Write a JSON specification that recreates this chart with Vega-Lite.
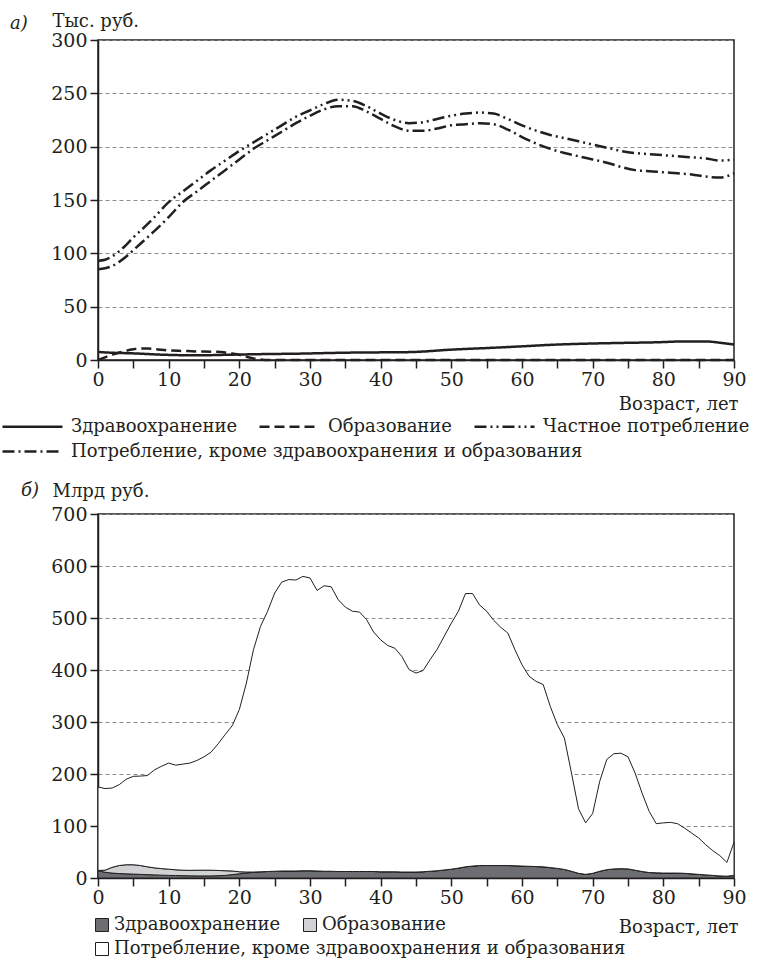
{
  "$schema": "https://vega.github.io/schema/vega-lite/v6.json",
  "background": "white",
  "padding": {"left": 0, "top": 11, "right": 0, "bottom": 0},
  "bounds": "flush",
  "spacing": 154,
  "resolve": {
    "scale": {"strokeDash": "independent", "fill": "independent"},
    "legend": {"strokeDash": "independent", "fill": "independent"}
  },
  "config": {
    "font": "DejaVu Serif",
    "view": {"stroke": "#231f20", "strokeWidth": 1.5},
    "axis": {
      "labelFont": "DejaVu Serif", "labelFontSize": 19, "labelColor": "#231f20",
      "titleFont": "DejaVu Serif", "titleFontSize": 18, "titleFontWeight": "normal", "titleColor": "#231f20",
      "domainColor": "#231f20", "domainWidth": 1.5, "tickColor": "#231f20", "tickWidth": 1.5, "tickSize": 8,
      "gridColor": "#8c8c8c", "gridDash": [4, 3], "gridWidth": 1
    },
    "legend": {"labelFont": "DejaVu Serif", "labelFontSize": 18, "labelColor": "#231f20", "labelLimit": 1000},
    "title": {"font": "DejaVu Serif", "fontSize": 18, "fontStyle": "italic", "fontWeight": "normal", "color": "#231f20"}
  },
  "vconcat": [
    {
      "width": 636,
      "height": 320,
      "title": {"text": "а)", "anchor": "start", "frame": "group", "dx": -88, "offset": -35, "baseline": "alphabetic"},
      "data": {"values": [
        {"age": 0, "series": "health", "value": 7.5},
        {"age": 2, "series": "health", "value": 6.8},
        {"age": 5, "series": "health", "value": 6.2},
        {"age": 9, "series": "health", "value": 5},
        {"age": 14, "series": "health", "value": 4.4},
        {"age": 19, "series": "health", "value": 5},
        {"age": 24, "series": "health", "value": 5.6},
        {"age": 28, "series": "health", "value": 5.9},
        {"age": 33, "series": "health", "value": 6.6},
        {"age": 38, "series": "health", "value": 7.1},
        {"age": 42, "series": "health", "value": 7.2},
        {"age": 45, "series": "health", "value": 7.6},
        {"age": 50, "series": "health", "value": 9.7},
        {"age": 55, "series": "health", "value": 11.2},
        {"age": 60, "series": "health", "value": 12.8},
        {"age": 64, "series": "health", "value": 14.2},
        {"age": 69, "series": "health", "value": 15.3},
        {"age": 74, "series": "health", "value": 16},
        {"age": 79, "series": "health", "value": 16.6},
        {"age": 83, "series": "health", "value": 17.4},
        {"age": 86, "series": "health", "value": 17.4},
        {"age": 88, "series": "health", "value": 16.2},
        {"age": 90, "series": "health", "value": 14.5},
        {"age": 0, "series": "education", "value": 0},
        {"age": 1, "series": "education", "value": 2.5},
        {"age": 2, "series": "education", "value": 5},
        {"age": 3, "series": "education", "value": 7},
        {"age": 4, "series": "education", "value": 8.7},
        {"age": 5, "series": "education", "value": 10},
        {"age": 6, "series": "education", "value": 10.8},
        {"age": 7, "series": "education", "value": 10.8},
        {"age": 8, "series": "education", "value": 10.3},
        {"age": 10, "series": "education", "value": 9},
        {"age": 12, "series": "education", "value": 8.5},
        {"age": 14, "series": "education", "value": 8},
        {"age": 16, "series": "education", "value": 7.8},
        {"age": 18, "series": "education", "value": 7},
        {"age": 19, "series": "education", "value": 6},
        {"age": 20, "series": "education", "value": 4.8},
        {"age": 21, "series": "education", "value": 3},
        {"age": 22, "series": "education", "value": 1.5},
        {"age": 23, "series": "education", "value": 0.5},
        {"age": 24, "series": "education", "value": 0},
        {"age": 30, "series": "education", "value": 0},
        {"age": 40, "series": "education", "value": 0},
        {"age": 50, "series": "education", "value": 0},
        {"age": 60, "series": "education", "value": 0},
        {"age": 70, "series": "education", "value": 0},
        {"age": 80, "series": "education", "value": 0},
        {"age": 90, "series": "education", "value": 0},
        {"age": 0, "series": "private", "value": 93},
        {"age": 1, "series": "private", "value": 94},
        {"age": 2, "series": "private", "value": 97},
        {"age": 3, "series": "private", "value": 102},
        {"age": 4, "series": "private", "value": 108},
        {"age": 5, "series": "private", "value": 115},
        {"age": 6, "series": "private", "value": 121},
        {"age": 8, "series": "private", "value": 134},
        {"age": 10, "series": "private", "value": 148},
        {"age": 12, "series": "private", "value": 158},
        {"age": 14, "series": "private", "value": 168},
        {"age": 16, "series": "private", "value": 178},
        {"age": 18, "series": "private", "value": 187},
        {"age": 20, "series": "private", "value": 196},
        {"age": 22, "series": "private", "value": 204},
        {"age": 24, "series": "private", "value": 212},
        {"age": 26, "series": "private", "value": 220},
        {"age": 28, "series": "private", "value": 228},
        {"age": 30, "series": "private", "value": 234},
        {"age": 32, "series": "private", "value": 240},
        {"age": 34, "series": "private", "value": 244},
        {"age": 36, "series": "private", "value": 243},
        {"age": 38, "series": "private", "value": 238},
        {"age": 40, "series": "private", "value": 231},
        {"age": 42, "series": "private", "value": 225},
        {"age": 44, "series": "private", "value": 222},
        {"age": 46, "series": "private", "value": 223},
        {"age": 48, "series": "private", "value": 226},
        {"age": 50, "series": "private", "value": 229},
        {"age": 52, "series": "private", "value": 231},
        {"age": 54, "series": "private", "value": 232},
        {"age": 56, "series": "private", "value": 231},
        {"age": 58, "series": "private", "value": 226},
        {"age": 60, "series": "private", "value": 220},
        {"age": 62, "series": "private", "value": 215},
        {"age": 64, "series": "private", "value": 211},
        {"age": 66, "series": "private", "value": 208},
        {"age": 68, "series": "private", "value": 205},
        {"age": 70, "series": "private", "value": 202},
        {"age": 72, "series": "private", "value": 199},
        {"age": 74, "series": "private", "value": 196},
        {"age": 76, "series": "private", "value": 194},
        {"age": 78, "series": "private", "value": 193},
        {"age": 80, "series": "private", "value": 192},
        {"age": 82, "series": "private", "value": 191},
        {"age": 84, "series": "private", "value": 190},
        {"age": 86, "series": "private", "value": 189},
        {"age": 88, "series": "private", "value": 187},
        {"age": 90, "series": "private", "value": 188},
        {"age": 0, "series": "other", "value": 85},
        {"age": 1, "series": "other", "value": 86},
        {"age": 2, "series": "other", "value": 88},
        {"age": 3, "series": "other", "value": 92},
        {"age": 4, "series": "other", "value": 97},
        {"age": 5, "series": "other", "value": 103},
        {"age": 6, "series": "other", "value": 109},
        {"age": 8, "series": "other", "value": 121},
        {"age": 10, "series": "other", "value": 134},
        {"age": 12, "series": "other", "value": 148},
        {"age": 14, "series": "other", "value": 158},
        {"age": 16, "series": "other", "value": 168},
        {"age": 18, "series": "other", "value": 178},
        {"age": 20, "series": "other", "value": 188},
        {"age": 22, "series": "other", "value": 198},
        {"age": 24, "series": "other", "value": 206},
        {"age": 26, "series": "other", "value": 214},
        {"age": 28, "series": "other", "value": 222},
        {"age": 30, "series": "other", "value": 229},
        {"age": 32, "series": "other", "value": 235},
        {"age": 34, "series": "other", "value": 238},
        {"age": 36, "series": "other", "value": 238},
        {"age": 38, "series": "other", "value": 233},
        {"age": 40, "series": "other", "value": 226},
        {"age": 42, "series": "other", "value": 219},
        {"age": 44, "series": "other", "value": 215},
        {"age": 46, "series": "other", "value": 215},
        {"age": 48, "series": "other", "value": 217},
        {"age": 50, "series": "other", "value": 220},
        {"age": 52, "series": "other", "value": 221},
        {"age": 54, "series": "other", "value": 222},
        {"age": 56, "series": "other", "value": 221},
        {"age": 58, "series": "other", "value": 216},
        {"age": 60, "series": "other", "value": 209},
        {"age": 62, "series": "other", "value": 203},
        {"age": 64, "series": "other", "value": 198},
        {"age": 66, "series": "other", "value": 194},
        {"age": 68, "series": "other", "value": 191},
        {"age": 70, "series": "other", "value": 188},
        {"age": 72, "series": "other", "value": 185},
        {"age": 74, "series": "other", "value": 181},
        {"age": 76, "series": "other", "value": 178},
        {"age": 78, "series": "other", "value": 177},
        {"age": 80, "series": "other", "value": 176},
        {"age": 82, "series": "other", "value": 175},
        {"age": 84, "series": "other", "value": 174},
        {"age": 86, "series": "other", "value": 172},
        {"age": 88, "series": "other", "value": 171},
        {"age": 90, "series": "other", "value": 175}
      ]},
      "encoding": {
        "x": {
          "field": "age", "type": "quantitative",
          "scale": {"domain": [0, 90], "nice": false},
          "axis": {
            "values": [0, 5, 10, 15, 20, 25, 30, 35, 40, 45, 50, 55, 60, 65, 70, 75, 80, 85, 90],
            "labelExpr": "datum.value % 10 === 0 ? datum.label : ''",
            "grid": false, "labelPadding": 2, "labelFlush": false,
            "title": "Возраст, лет", "titleAnchor": "end", "titleAlign": "right",
            "titleX": 640, "titleY": 49, "titleBaseline": "alphabetic"
          }
        },
        "y": {
          "field": "value", "type": "quantitative",
          "scale": {"domain": [0, 300], "nice": false},
          "axis": {
            "values": [0, 50, 100, 150, 200, 250, 300],
            "labelPadding": 3,
            "title": "Тыс. руб.", "titleAngle": 0, "titleAlign": "left",
            "titleX": -46, "titleY": -14, "titleBaseline": "alphabetic"
          }
        }
      },
      "layer": [
        {
          "transform": [{"filter": "datum.series != 'other'"}],
          "mark": {"type": "line", "interpolate": "monotone", "strokeWidth": 2.5, "color": "#231f20"},
          "encoding": {
            "strokeDash": {
              "field": "series", "type": "nominal",
              "scale": {"domain": ["health", "education", "private"], "range": [[1, 0], [10, 5], [12, 4, 2, 4, 2, 4]]},
              "legend": {
                "orient": "none", "legendX": -97, "legendY": 355, "direction": "horizontal",
                "title": null, "symbolType": "stroke", "symbolSize": 3600, "symbolStrokeWidth": 2.5,
                "symbolStrokeColor": "#231f20", "columnPadding": 16, "labelOffset": 7,
                "labelExpr": "datum.label == 'health' ? 'Здравоохранение' : datum.label == 'education' ? 'Образование' : 'Частное потребление'"
              }
            }
          }
        },
        {
          "transform": [{"filter": "datum.series == 'other'"}],
          "mark": {"type": "line", "interpolate": "monotone", "strokeWidth": 2.5, "color": "#231f20"},
          "encoding": {
            "strokeDash": {
              "field": "series", "type": "nominal",
              "scale": {"domain": ["other"], "range": [[12, 4, 2, 4]]},
              "legend": {
                "orient": "none", "legendX": -97, "legendY": 380, "direction": "horizontal",
                "title": null, "symbolType": "stroke", "symbolSize": 3600, "symbolStrokeWidth": 2.5,
                "symbolStrokeColor": "#231f20", "labelOffset": 7,
                "labelExpr": "'Потребление, кроме здравоохранения и образования'"
              }
            }
          }
        }
      ],
      "resolve": {"scale": {"strokeDash": "independent"}, "legend": {"strokeDash": "independent"}}
    },
    {
      "width": 636,
      "height": 364,
      "title": {"text": "б)", "anchor": "start", "frame": "group", "dx": -77, "offset": -32, "baseline": "alphabetic"},
      "data": {"values": [
        {"age": 0, "Здравоохранение": 14, "Образование": 0.5, "Потребление": 160.5},
        {"age": 1, "Здравоохранение": 11, "Образование": 4, "Потребление": 157},
        {"age": 2, "Здравоохранение": 9.5, "Образование": 11, "Потребление": 152.5},
        {"age": 3, "Здравоохранение": 8.5, "Образование": 15.5, "Потребление": 155.5},
        {"age": 4, "Здравоохранение": 8, "Образование": 17.5, "Потребление": 164.5},
        {"age": 5, "Здравоохранение": 7.5, "Образование": 18, "Потребление": 170},
        {"age": 6, "Здравоохранение": 7, "Образование": 17, "Потребление": 172},
        {"age": 7, "Здравоохранение": 6.5, "Образование": 15, "Потребление": 175.5},
        {"age": 8, "Здравоохранение": 6, "Образование": 13.5, "Потребление": 188.5},
        {"age": 9, "Здравоохранение": 5.5, "Образование": 12.5, "Потребление": 197},
        {"age": 10, "Здравоохранение": 5, "Образование": 12, "Потребление": 204},
        {"age": 11, "Здравоохранение": 4.8, "Образование": 11, "Потребление": 201.2},
        {"age": 12, "Здравоохранение": 4.5, "Образование": 10.5, "Потребление": 204},
        {"age": 13, "Здравоохранение": 4.2, "Образование": 10.5, "Потребление": 206.3},
        {"age": 14, "Здравоохранение": 4, "Образование": 11, "Потребление": 211},
        {"age": 15, "Здравоохранение": 4, "Образование": 11, "Потребление": 218},
        {"age": 16, "Здравоохранение": 4, "Образование": 11, "Потребление": 227},
        {"age": 17, "Здравоохранение": 4.5, "Образование": 10, "Потребление": 243.5},
        {"age": 18, "Здравоохранение": 5, "Образование": 9, "Потребление": 262},
        {"age": 19, "Здравоохранение": 6.5, "Образование": 7, "Потребление": 279.5},
        {"age": 20, "Здравоохранение": 8, "Образование": 4, "Потребление": 312},
        {"age": 21, "Здравоохранение": 9.5, "Образование": 2, "Потребление": 363.5},
        {"age": 22, "Здравоохранение": 11, "Образование": 0.5, "Потребление": 427.5},
        {"age": 23, "Здравоохранение": 12, "Образование": 0, "Потребление": 472},
        {"age": 24, "Здравоохранение": 12.5, "Образование": 0, "Потребление": 500.5},
        {"age": 25, "Здравоохранение": 13, "Образование": 0, "Потребление": 535},
        {"age": 26, "Здравоохранение": 13.5, "Образование": 0, "Потребление": 555.5},
        {"age": 27, "Здравоохранение": 13.5, "Образование": 0, "Потребление": 560.5},
        {"age": 28, "Здравоохранение": 13.5, "Образование": 0, "Потребление": 559.5},
        {"age": 29, "Здравоохранение": 14, "Образование": 0, "Потребление": 566},
        {"age": 30, "Здравоохранение": 14, "Образование": 0, "Потребление": 563},
        {"age": 31, "Здравоохранение": 13.5, "Образование": 0, "Потребление": 539.5},
        {"age": 32, "Здравоохранение": 13, "Образование": 0, "Потребление": 549},
        {"age": 33, "Здравоохранение": 13, "Образование": 0, "Потребление": 547},
        {"age": 34, "Здравоохранение": 12.5, "Образование": 0, "Потребление": 522.5},
        {"age": 35, "Здравоохранение": 12.5, "Образование": 0, "Потребление": 508.5},
        {"age": 36, "Здравоохранение": 12.5, "Образование": 0, "Потребление": 500.5},
        {"age": 37, "Здравоохранение": 12.5, "Образование": 0, "Потребление": 499},
        {"age": 38, "Здравоохранение": 12.5, "Образование": 0, "Потребление": 484.5},
        {"age": 39, "Здравоохранение": 12.5, "Образование": 0, "Потребление": 460.5},
        {"age": 40, "Здравоохранение": 12, "Образование": 0, "Потребление": 446},
        {"age": 41, "Здравоохранение": 12, "Образование": 0, "Потребление": 435},
        {"age": 42, "Здравоохранение": 12, "Образование": 0, "Потребление": 430},
        {"age": 43, "Здравоохранение": 11.5, "Образование": 0, "Потребление": 414.5},
        {"age": 44, "Здравоохранение": 11.5, "Образование": 0, "Потребление": 389.5},
        {"age": 45, "Здравоохранение": 11.5, "Образование": 0, "Потребление": 382.5},
        {"age": 46, "Здравоохранение": 12, "Образование": 0, "Потребление": 387},
        {"age": 47, "Здравоохранение": 13, "Образование": 0, "Потребление": 407},
        {"age": 48, "Здравоохранение": 14, "Образование": 0, "Потребление": 426},
        {"age": 49, "Здравоохранение": 15.5, "Образование": 0, "Потребление": 449.5},
        {"age": 50, "Здравоохранение": 17, "Образование": 0, "Потребление": 473},
        {"age": 51, "Здравоохранение": 19, "Образование": 0, "Потребление": 494},
        {"age": 52, "Здравоохранение": 21.5, "Образование": 0, "Потребление": 525.5},
        {"age": 53, "Здравоохранение": 23, "Образование": 0, "Потребление": 524},
        {"age": 54, "Здравоохранение": 24, "Образование": 0, "Потребление": 501},
        {"age": 55, "Здравоохранение": 24, "Образование": 0, "Потребление": 489},
        {"age": 56, "Здравоохранение": 24, "Образование": 0, "Потребление": 471.5},
        {"age": 57, "Здравоохранение": 24, "Образование": 0, "Потребление": 458},
        {"age": 58, "Здравоохранение": 24, "Образование": 0, "Потребление": 447},
        {"age": 59, "Здравоохранение": 23.5, "Образование": 0, "Потребление": 415.5},
        {"age": 60, "Здравоохранение": 23, "Образование": 0, "Потребление": 387},
        {"age": 61, "Здравоохранение": 22.5, "Образование": 0, "Потребление": 365.5},
        {"age": 62, "Здравоохранение": 22, "Образование": 0, "Потребление": 356},
        {"age": 63, "Здравоохранение": 21.5, "Образование": 0, "Потребление": 350.5},
        {"age": 64, "Здравоохранение": 20, "Образование": 0, "Потребление": 310},
        {"age": 65, "Здравоохранение": 18.5, "Образование": 0, "Потребление": 276.5},
        {"age": 66, "Здравоохранение": 16.5, "Образование": 0, "Потребление": 252.5},
        {"age": 67, "Здравоохранение": 13, "Образование": 0, "Потребление": 189},
        {"age": 68, "Здравоохранение": 9, "Образование": 0, "Потребление": 124},
        {"age": 69, "Здравоохранение": 7, "Образование": 0, "Потребление": 99},
        {"age": 70, "Здравоохранение": 9, "Образование": 0, "Потребление": 115},
        {"age": 71, "Здравоохранение": 13, "Образование": 0, "Потребление": 173},
        {"age": 72, "Здравоохранение": 16, "Образование": 0, "Потребление": 212},
        {"age": 73, "Здравоохранение": 17.5, "Образование": 0, "Потребление": 221.5},
        {"age": 74, "Здравоохранение": 18, "Образование": 0, "Потребление": 222},
        {"age": 75, "Здравоохранение": 17.5, "Образование": 0, "Потребление": 215.5},
        {"age": 76, "Здравоохранение": 15, "Образование": 0, "Потребление": 187},
        {"age": 77, "Здравоохранение": 12.5, "Образование": 0, "Потребление": 150.5},
        {"age": 78, "Здравоохранение": 10.5, "Образование": 0, "Потребление": 117.5},
        {"age": 79, "Здравоохранение": 10, "Образование": 0, "Потребление": 94.5},
        {"age": 80, "Здравоохранение": 9.5, "Образование": 0, "Потребление": 96.5},
        {"age": 81, "Здравоохранение": 9.5, "Образование": 0, "Потребление": 97.5},
        {"age": 82, "Здравоохранение": 9.5, "Образование": 0, "Потребление": 95},
        {"age": 83, "Здравоохранение": 9, "Образование": 0, "Потребление": 87},
        {"age": 84, "Здравоохранение": 8, "Образование": 0, "Потребление": 78.5},
        {"age": 85, "Здравоохранение": 7, "Образование": 0, "Потребление": 70},
        {"age": 86, "Здравоохранение": 6, "Образование": 0, "Потребление": 58},
        {"age": 87, "Здравоохранение": 5, "Образование": 0, "Потребление": 47.5},
        {"age": 88, "Здравоохранение": 4, "Образование": 0, "Потребление": 39},
        {"age": 89, "Здравоохранение": 3.5, "Образование": 0, "Потребление": 26.5},
        {"age": 90, "Здравоохранение": 5, "Образование": 0, "Потребление": 63.6}
      ]},
      "transform": [{"fold": ["Здравоохранение", "Образование", "Потребление"], "as": ["category", "amount"]}],
      "encoding": {
        "x": {
          "field": "age", "type": "quantitative",
          "scale": {"domain": [0, 90], "nice": false},
          "axis": {
            "values": [0, 5, 10, 15, 20, 25, 30, 35, 40, 45, 50, 55, 60, 65, 70, 75, 80, 85, 90],
            "labelExpr": "datum.value % 10 === 0 ? datum.label : ''",
            "grid": false, "labelPadding": 2, "labelFlush": false,
            "title": "Возраст, лет", "titleAnchor": "end", "titleAlign": "right",
            "titleX": 640, "titleY": 54, "titleBaseline": "alphabetic"
          }
        }
      },
      "layer": [
        {
          "mark": {"type": "area", "stroke": "#231f20", "strokeWidth": 1, "opacity": 1, "fillOpacity": 1},
          "encoding": {
            "y": {
              "field": "amount", "type": "quantitative", "stack": "zero",
              "scale": {"domain": [0, 700], "nice": false},
              "axis": {
                "values": [0, 100, 200, 300, 400, 500, 600, 700],
                "labelPadding": 3,
                "title": "Млрд руб.", "titleAngle": 0, "titleAlign": "left",
                "titleX": -46, "titleY": -18, "titleBaseline": "alphabetic"
              }
            },
            "fill": {
              "field": "category", "type": "nominal",
              "scale": {"domain": ["Здравоохранение", "Образование", "Потребление"], "range": ["#6d6e71", "#d1d2d4", "#ffffff"]},
              "legend": {
                "values": ["Здравоохранение", "Образование"],
                "orient": "none", "legendX": -5, "legendY": 402, "direction": "horizontal",
                "title": null, "symbolType": "square", "symbolSize": 169, "symbolStrokeWidth": 1,
                "symbolStrokeColor": "#231f20", "symbolOpacity": 1, "columnPadding": 20, "labelOffset": 3
              }
            },
            "order": {"field": "category", "sort": "ascending"}
          }
        },
        {
          "transform": [{"filter": "datum.category == 'Потребление'"}],
          "mark": {"type": "point", "filled": true, "size": 0},
          "encoding": {
            "y": {"field": "amount", "type": "quantitative"},
            "fill": {
              "field": "category", "type": "nominal",
              "scale": {"domain": ["Потребление"], "range": ["#ffffff"]},
              "legend": {
                "orient": "none", "legendX": -5, "legendY": 426, "direction": "horizontal",
                "title": null, "symbolType": "square", "symbolSize": 169, "symbolStrokeWidth": 1,
                "symbolStrokeColor": "#231f20", "symbolFillColor": "#ffffff", "symbolOpacity": 1, "labelOffset": 3,
                "labelExpr": "'Потребление, кроме здравоохранения и образования'"
              }
            }
          }
        }
      ],
      "resolve": {"scale": {"fill": "independent"}, "legend": {"fill": "independent"}}
    }
  ]
}
